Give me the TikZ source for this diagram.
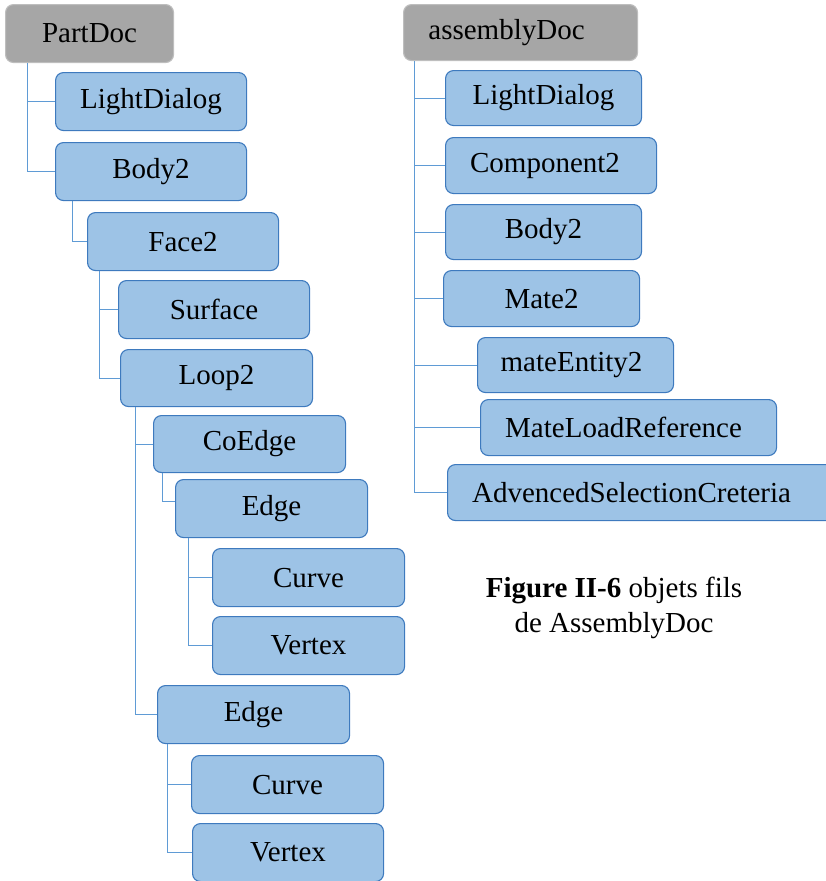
\documentclass[tikz,border=0pt]{standalone}
\usepackage{fontspec}
\setmainfont{Liberation Serif}
\definecolor{boxfill}{RGB}{157,195,230}
\definecolor{boxline}{RGB}{62,122,190}
\definecolor{rootfill}{RGB}{166,166,166}
\definecolor{rootline}{RGB}{190,190,190}
\definecolor{connline}{RGB}{95,155,213}
\tikzset{
  obj/.style={draw=boxline, fill=boxfill, rounded corners=8pt, line width=1.1pt,
    inner sep=0pt, anchor=north west, font=\fontsize{29}{34}\selectfont},
  root/.style={obj, draw=rootline, fill=rootfill},
  conn/.style={draw=connline, line width=1pt},
  caption/.style={align=center, font=\fontsize{29}{35}\selectfont}
}
\begin{document}
\begin{tikzpicture}[x=1pt,y=-1pt]
\useasboundingbox (0,0) rectangle (826,881);

% PartDoc hierarchy
\node[root, minimum width=168pt, minimum height=58pt] (partdoc) at (5,4) {PartDoc};
\node[obj, minimum width=191pt, minimum height=58pt] (lightL) at (55,72) {LightDialog};
\node[obj, minimum width=191pt, minimum height=58pt] (bodyL) at (55,142) {Body2};
\node[obj, minimum width=191pt, minimum height=58pt] (face) at (87,212) {Face2};
\node[obj, minimum width=191pt, minimum height=58pt] (surface) at (118,280) {Surface};
\node[obj, minimum width=192pt, minimum height=57pt] (loop) at (120,349) {Loop2};
\node[obj, minimum width=192pt, minimum height=57pt] (coedge) at (153,415) {CoEdge};
\node[obj, minimum width=192pt, minimum height=58pt] (edgeA) at (175,479) {Edge};
\node[obj, minimum width=192pt, minimum height=58pt] (curveA) at (212,548) {Curve};
\node[obj, minimum width=192pt, minimum height=58pt] (vertexA) at (212,616) {Vertex};
\node[obj, minimum width=192pt, minimum height=58pt] (edgeB) at (157,685) {Edge};
\node[obj, minimum width=192pt, minimum height=58pt] (curveB) at (191,755) {Curve};
\node[obj, minimum width=191pt, minimum height=58pt] (vertexB) at (192,823) {Vertex};

% assemblyDoc hierarchy (text sits a little left of the box centre)
\node[root, minimum width=234pt, minimum height=56pt] (asm) at (403,4) {assemblyDoc\kern28pt};
\node[obj, minimum width=196pt, minimum height=55pt] (lightR) at (445,70) {LightDialog};
\node[obj, minimum width=211pt, minimum height=56pt] (comp) at (445,137) {Component2\kern12pt};
\node[obj, minimum width=196pt, minimum height=55pt] (bodyR) at (445,204) {Body2};
\node[obj, minimum width=196pt, minimum height=56pt] (mate) at (443,270) {Mate2};
\node[obj, minimum width=196pt, minimum height=55pt] (mateent) at (477,337) {mateEntity2\kern8pt};
\node[obj, minimum width=296pt, minimum height=56pt] (mateload) at (480,399) {MateLoadReference\kern10pt};
\node[obj, minimum width=400pt, minimum height=56pt] (adv) at (447,464) {AdvencedSelectionCreteria\kern32pt};

% connectors of the PartDoc tree
\draw[conn] ([xshift=22pt]partdoc.south west) |- (lightL.west);
\draw[conn] ([xshift=22pt]partdoc.south west) |- (bodyL.west);
\draw[conn] ([xshift=17pt]bodyL.south west) |- (face.west);
\draw[conn] ([xshift=12pt]face.south west) |- (surface.west);
\draw[conn] ([xshift=12pt]face.south west) |- (loop.west);
\draw[conn] ([xshift=15pt]loop.south west) |- (coedge.west);
\draw[conn] ([xshift=15pt]loop.south west) |- (edgeB.west);
\draw[conn] ([xshift=9pt]coedge.south west) |- ([yshift=7pt]edgeA.west);
\draw[conn] ([xshift=13pt]edgeA.south west) |- (curveA.west);
\draw[conn] ([xshift=13pt]edgeA.south west) |- (vertexA.west);
\draw[conn] ([xshift=10pt]edgeB.south west) |- (curveB.west);
\draw[conn] ([xshift=10pt]edgeB.south west) |- (vertexB.west);

% connectors of the assemblyDoc tree
\foreach \child in {lightR,comp,bodyR,mate,mateent,mateload,adv}
  \draw[conn] ([xshift=11pt]asm.south west) |- (\child.west);

% caption
\node[caption] (cap) at (614,608) {\textbf{Figure II-6} objets fils\\de AssemblyDoc};
\end{tikzpicture}
\end{document}
